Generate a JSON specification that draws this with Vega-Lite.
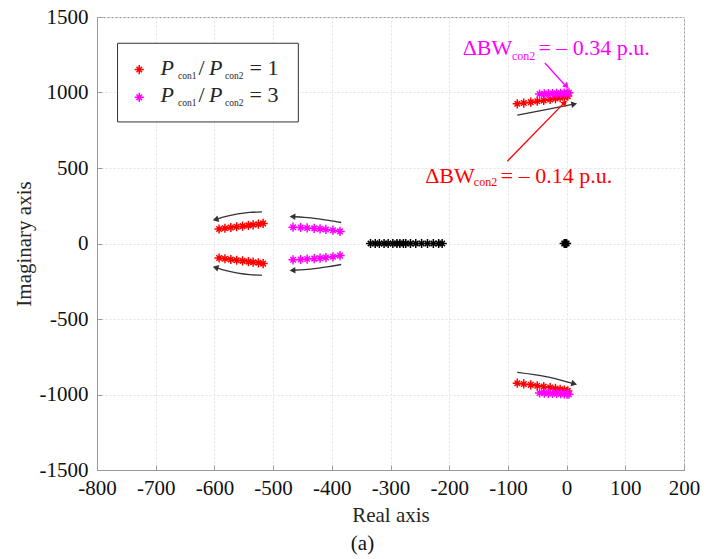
{
  "$schema": "https://vega.github.io/schema/vega-lite/v6.json",
  "width": 587,
  "height": 453,
  "autosize": {"type": "none"},
  "padding": {"left": 97, "top": 17, "right": 34, "bottom": 89},
  "background": "white",
  "config": {
    "font": "Liberation Serif",
    "view": {"stroke": "#9a9a9a", "strokeWidth": 1},
    "axis": {
      "labelFont": "Liberation Serif",
      "labelFontSize": 21,
      "labelColor": "#111111",
      "titleFont": "Liberation Serif",
      "titleFontSize": 21,
      "titleFontWeight": "normal",
      "titleColor": "#262626",
      "domainColor": "#9a9a9a",
      "tickColor": "#9a9a9a",
      "gridColor": "#e3e3e3",
      "gridDash": [2, 2],
      "gridWidth": 1
    }
  },
  "title": {
    "text": "(a)",
    "orient": "bottom",
    "anchor": "middle",
    "dx": -28,
    "offset": 8,
    "font": "Liberation Serif",
    "fontSize": 21,
    "fontWeight": "normal",
    "color": "#111111"
  },
  "datasets": {
    "poles": [
      {"re": -84, "im": 925, "case": "ratio 1"}, {"re": -73, "im": 930, "case": "ratio 1"}, {"re": -61, "im": 936, "case": "ratio 1"}, {"re": -50, "im": 942, "case": "ratio 1"}, {"re": -39, "im": 948, "case": "ratio 1"}, {"re": -28, "im": 954, "case": "ratio 1"}, {"re": -19, "im": 960, "case": "ratio 1"}, {"re": -11, "im": 966, "case": "ratio 1"}, {"re": -4, "im": 971, "case": "ratio 1"}, {"re": 2, "im": 976, "case": "ratio 1"},
      {"re": -84, "im": -925, "case": "ratio 1"}, {"re": -73, "im": -930, "case": "ratio 1"}, {"re": -61, "im": -936, "case": "ratio 1"}, {"re": -50, "im": -942, "case": "ratio 1"}, {"re": -39, "im": -948, "case": "ratio 1"}, {"re": -28, "im": -954, "case": "ratio 1"}, {"re": -19, "im": -960, "case": "ratio 1"}, {"re": -11, "im": -966, "case": "ratio 1"}, {"re": -4, "im": -971, "case": "ratio 1"}, {"re": 2, "im": -976, "case": "ratio 1"},
      {"re": -592, "im": 96, "case": "ratio 1"}, {"re": -582, "im": 101, "case": "ratio 1"}, {"re": -572, "im": 106, "case": "ratio 1"}, {"re": -562, "im": 111, "case": "ratio 1"}, {"re": -552, "im": 115, "case": "ratio 1"}, {"re": -542, "im": 120, "case": "ratio 1"}, {"re": -534, "im": 124, "case": "ratio 1"}, {"re": -525, "im": 128, "case": "ratio 1"}, {"re": -517, "im": 133, "case": "ratio 1"},
      {"re": -592, "im": -96, "case": "ratio 1"}, {"re": -582, "im": -101, "case": "ratio 1"}, {"re": -572, "im": -106, "case": "ratio 1"}, {"re": -562, "im": -111, "case": "ratio 1"}, {"re": -552, "im": -115, "case": "ratio 1"}, {"re": -542, "im": -120, "case": "ratio 1"}, {"re": -534, "im": -124, "case": "ratio 1"}, {"re": -525, "im": -128, "case": "ratio 1"}, {"re": -517, "im": -133, "case": "ratio 1"},
      {"re": -46, "im": 990, "case": "ratio 3"}, {"re": -38, "im": 991, "case": "ratio 3"}, {"re": -31, "im": 992, "case": "ratio 3"}, {"re": -24, "im": 993, "case": "ratio 3"}, {"re": -17, "im": 994, "case": "ratio 3"}, {"re": -10, "im": 995, "case": "ratio 3"}, {"re": -4, "im": 996, "case": "ratio 3"}, {"re": 1, "im": 997, "case": "ratio 3"}, {"re": 4, "im": 998, "case": "ratio 3"},
      {"re": -46, "im": -990, "case": "ratio 3"}, {"re": -38, "im": -991, "case": "ratio 3"}, {"re": -31, "im": -992, "case": "ratio 3"}, {"re": -24, "im": -993, "case": "ratio 3"}, {"re": -17, "im": -994, "case": "ratio 3"}, {"re": -10, "im": -995, "case": "ratio 3"}, {"re": -4, "im": -996, "case": "ratio 3"}, {"re": 1, "im": -997, "case": "ratio 3"}, {"re": 4, "im": -998, "case": "ratio 3"},
      {"re": -466, "im": 108, "case": "ratio 3"}, {"re": -453, "im": 106, "case": "ratio 3"}, {"re": -442, "im": 103, "case": "ratio 3"}, {"re": -430, "im": 100, "case": "ratio 3"}, {"re": -420, "im": 97, "case": "ratio 3"}, {"re": -410, "im": 93, "case": "ratio 3"}, {"re": -398, "im": 88, "case": "ratio 3"}, {"re": -386, "im": 80, "case": "ratio 3"},
      {"re": -466, "im": -108, "case": "ratio 3"}, {"re": -453, "im": -106, "case": "ratio 3"}, {"re": -442, "im": -103, "case": "ratio 3"}, {"re": -430, "im": -100, "case": "ratio 3"}, {"re": -420, "im": -97, "case": "ratio 3"}, {"re": -410, "im": -93, "case": "ratio 3"}, {"re": -398, "im": -88, "case": "ratio 3"}, {"re": -386, "im": -80, "case": "ratio 3"},
      {"re": -334, "im": 0, "case": "common"}, {"re": -326, "im": 0, "case": "common"}, {"re": -319, "im": 0, "case": "common"}, {"re": -311, "im": 0, "case": "common"}, {"re": -304, "im": 0, "case": "common"}, {"re": -296, "im": 0, "case": "common"}, {"re": -289, "im": 0, "case": "common"}, {"re": -284, "im": 0, "case": "common"}, {"re": -278, "im": 0, "case": "common"}, {"re": -274, "im": 0, "case": "common"}, {"re": -266, "im": 0, "case": "common"}, {"re": -257, "im": 0, "case": "common"}, {"re": -247, "im": 0, "case": "common"}, {"re": -237, "im": 0, "case": "common"}, {"re": -227, "im": 0, "case": "common"}, {"re": -218, "im": 0, "case": "common"}, {"re": -212, "im": 0, "case": "common"},
      {"re": -4, "im": 0, "case": "common"}, {"re": -2, "im": 0, "case": "common"}, {"re": 0, "im": 0, "case": "common"}
    ],
    "arrows": [
      {"id": "a1", "k": 0, "re": -519, "im": 210, "tone": "trend"}, {"id": "a1", "k": 1, "re": -540, "im": 206, "tone": "trend"}, {"id": "a1", "k": 2, "re": -560, "im": 196, "tone": "trend"}, {"id": "a1", "k": 3, "re": -580, "im": 180, "tone": "trend"}, {"id": "a1", "k": 4, "re": -596, "im": 162, "tone": "trend"},
      {"id": "a2", "k": 0, "re": -519, "im": -210, "tone": "trend"}, {"id": "a2", "k": 1, "re": -540, "im": -206, "tone": "trend"}, {"id": "a2", "k": 2, "re": -560, "im": -196, "tone": "trend"}, {"id": "a2", "k": 3, "re": -580, "im": -180, "tone": "trend"}, {"id": "a2", "k": 4, "re": -596, "im": -162, "tone": "trend"},
      {"id": "a3", "k": 0, "re": -384, "im": 139, "tone": "trend"}, {"id": "a3", "k": 1, "re": -405, "im": 153, "tone": "trend"}, {"id": "a3", "k": 2, "re": -426, "im": 165, "tone": "trend"}, {"id": "a3", "k": 3, "re": -447, "im": 173, "tone": "trend"}, {"id": "a3", "k": 4, "re": -464, "im": 177, "tone": "trend"},
      {"id": "a4", "k": 0, "re": -384, "im": -139, "tone": "trend"}, {"id": "a4", "k": 1, "re": -405, "im": -153, "tone": "trend"}, {"id": "a4", "k": 2, "re": -426, "im": -165, "tone": "trend"}, {"id": "a4", "k": 3, "re": -447, "im": -173, "tone": "trend"}, {"id": "a4", "k": 4, "re": -464, "im": -177, "tone": "trend"},
      {"id": "a5", "k": 0, "re": -84, "im": 850, "tone": "trend"}, {"id": "a5", "k": 1, "re": -35, "im": 886, "tone": "trend"}, {"id": "a5", "k": 2, "re": 10, "im": 921, "tone": "trend"},
      {"id": "a6", "k": 0, "re": -84, "im": -854, "tone": "trend"}, {"id": "a6", "k": 1, "re": -35, "im": -882, "tone": "trend"}, {"id": "a6", "k": 2, "re": 10, "im": -926, "tone": "trend"},
      {"id": "a7", "k": 0, "re": -37, "im": 1195, "tone": "ratio 3"}, {"id": "a7", "k": 1, "re": -3, "im": 1050, "tone": "ratio 3"},
      {"id": "a8", "k": 0, "re": -101, "im": 545, "tone": "ratio 1"}, {"id": "a8", "k": 1, "re": -5, "im": 928, "tone": "ratio 1"}
    ],
    "heads": [
      {"re": -598, "im": 159, "heading": 164, "tone": "trend"},
      {"re": -598, "im": -159, "heading": 196, "tone": "trend"},
      {"re": -467, "im": 178, "heading": 183, "tone": "trend"},
      {"re": -467, "im": -178, "heading": 177, "tone": "trend"},
      {"re": 13, "im": 923, "heading": 349, "tone": "trend"},
      {"re": 13, "im": -929, "heading": 14, "tone": "trend"},
      {"re": 0, "im": 1042, "heading": 46, "tone": "ratio 3"},
      {"re": -3, "im": 934, "heading": 314, "tone": "ratio 1"}
    ],
    "legendBox": [{"x1": -765, "x2": -457, "y1": 1326, "y2": 805}],
    "legendKeys": [
      {"re": -728, "im": 1152, "case": "ratio 1"},
      {"re": -728, "im": 968, "case": "ratio 3"}
    ],
    "italicText": [
      {"re": -692, "im": 1119, "label": "P"},
      {"re": -609, "im": 1119, "label": "P"},
      {"re": -692, "im": 937, "label": "P"},
      {"re": -609, "im": 937, "label": "P"}
    ],
    "plainText": [
      {"re": -627, "im": 1119, "label": "/"},
      {"re": -540, "im": 1119, "label": "= 1"},
      {"re": -627, "im": 937, "label": "/"},
      {"re": -540, "im": 937, "label": "= 3"}
    ],
    "subText": [
      {"re": -662, "im": 1092, "label": "con1"},
      {"re": -582, "im": 1092, "label": "con2"},
      {"re": -662, "im": 910, "label": "con1"},
      {"re": -582, "im": 910, "label": "con2"}
    ],
    "noteText": [
      {"re": -177, "im": 1246, "label": "ΔBW", "tone": "ratio 3"},
      {"re": -48, "im": 1246, "label": "= – 0.34 p.u.", "tone": "ratio 3"},
      {"re": -241, "im": 403, "label": "ΔBW", "tone": "ratio 1"},
      {"re": -112, "im": 403, "label": "= – 0.14 p.u.", "tone": "ratio 1"}
    ],
    "noteSub": [
      {"re": -93, "im": 1218, "label": "con2", "tone": "ratio 3"},
      {"re": -158, "im": 381, "label": "con2", "tone": "ratio 1"}
    ]
  },
  "layer": [
    {
      "data": {"name": "poles"},
      "mark": {
        "type": "point",
        "shape": "M-1,0H1M0,-1V1M-0.6,-0.6L0.6,0.6M-0.6,0.6L0.6,-0.6",
        "filled": false,
        "size": 85,
        "strokeWidth": 1.5,
        "opacity": 1
      },
      "encoding": {
        "x": {
          "field": "re",
          "type": "quantitative",
          "scale": {"domain": [-800, 200], "nice": false, "zero": false},
          "axis": {
            "title": "Real axis",
            "values": [-800, -700, -600, -500, -400, -300, -200, -100, 0, 100, 200],
            "labelExpr": "'' + datum.value",
            "labelFont": "Liberation Serif",
            "labelFontSize": 21,
            "tickSize": -5,
            "labelPadding": 12,
            "titlePadding": 6,
            "labelFlush": false
          }
        },
        "y": {
          "field": "im",
          "type": "quantitative",
          "scale": {"domain": [-1500, 1500], "nice": false, "zero": false},
          "axis": {
            "title": "Imaginary axis",
            "values": [-1500, -1000, -500, 0, 500, 1000, 1500],
            "labelExpr": "'' + datum.value",
            "labelFont": "Liberation Serif",
            "labelFontSize": 21,
            "tickSize": -5,
            "labelPadding": 14,
            "titlePadding": 5,
            "labelFlush": false
          }
        },
        "color": {
          "field": "case",
          "type": "nominal",
          "scale": {"domain": ["ratio 1", "ratio 3", "common", "trend"], "range": ["#ff0000", "#ff00ff", "#000000", "#333333"]},
          "legend": null
        }
      }
    },
    {
      "data": {"name": "arrows"},
      "mark": {"type": "line", "interpolate": "monotone", "strokeWidth": 1.3},
      "encoding": {
        "x": {"field": "re", "type": "quantitative"},
        "y": {"field": "im", "type": "quantitative"},
        "detail": {"field": "id"},
        "order": {"field": "k"},
        "color": {"field": "tone", "type": "nominal", "legend": null}
      }
    },
    {
      "data": {"name": "heads"},
      "mark": {"type": "point", "shape": "triangle-right", "filled": true, "size": 45, "opacity": 1},
      "encoding": {
        "x": {"field": "re", "type": "quantitative"},
        "y": {"field": "im", "type": "quantitative"},
        "angle": {"field": "heading", "type": "quantitative", "scale": null},
        "color": {"field": "tone", "type": "nominal", "legend": null}
      }
    },
    {
      "data": {"name": "legendBox"},
      "mark": {"type": "rect", "fill": "white", "stroke": "#333333", "strokeWidth": 1},
      "encoding": {
        "x": {"field": "x1", "type": "quantitative"},
        "x2": {"field": "x2"},
        "y": {"field": "y1", "type": "quantitative"},
        "y2": {"field": "y2"}
      }
    },
    {
      "data": {"name": "legendKeys"},
      "mark": {
        "type": "point",
        "shape": "M-1,0H1M0,-1V1M-0.6,-0.6L0.6,0.6M-0.6,0.6L0.6,-0.6",
        "filled": false,
        "size": 85,
        "strokeWidth": 1.5,
        "opacity": 1
      },
      "encoding": {
        "x": {"field": "re", "type": "quantitative"},
        "y": {"field": "im", "type": "quantitative"},
        "color": {"field": "case", "type": "nominal", "legend": null}
      }
    },
    {
      "data": {"name": "italicText"},
      "mark": {"type": "text", "align": "left", "baseline": "alphabetic", "font": "Liberation Serif", "fontStyle": "italic", "fontSize": 22, "color": "#262626"},
      "encoding": {
        "x": {"field": "re", "type": "quantitative"},
        "y": {"field": "im", "type": "quantitative"},
        "text": {"field": "label"}
      }
    },
    {
      "data": {"name": "plainText"},
      "mark": {"type": "text", "align": "left", "baseline": "alphabetic", "font": "Liberation Serif", "fontSize": 22, "color": "#262626"},
      "encoding": {
        "x": {"field": "re", "type": "quantitative"},
        "y": {"field": "im", "type": "quantitative"},
        "text": {"field": "label"}
      }
    },
    {
      "data": {"name": "subText"},
      "mark": {"type": "text", "align": "left", "baseline": "alphabetic", "font": "Liberation Serif", "fontSize": 9.5, "color": "#262626"},
      "encoding": {
        "x": {"field": "re", "type": "quantitative"},
        "y": {"field": "im", "type": "quantitative"},
        "text": {"field": "label"}
      }
    },
    {
      "data": {"name": "noteText"},
      "mark": {"type": "text", "align": "left", "baseline": "alphabetic", "font": "Liberation Serif", "fontSize": 22},
      "encoding": {
        "x": {"field": "re", "type": "quantitative"},
        "y": {"field": "im", "type": "quantitative"},
        "text": {"field": "label"},
        "color": {"field": "tone", "type": "nominal", "legend": null}
      }
    },
    {
      "data": {"name": "noteSub"},
      "mark": {"type": "text", "align": "left", "baseline": "alphabetic", "font": "Liberation Serif", "fontSize": 12},
      "encoding": {
        "x": {"field": "re", "type": "quantitative"},
        "y": {"field": "im", "type": "quantitative"},
        "text": {"field": "label"},
        "color": {"field": "tone", "type": "nominal", "legend": null}
      }
    }
  ]
}
